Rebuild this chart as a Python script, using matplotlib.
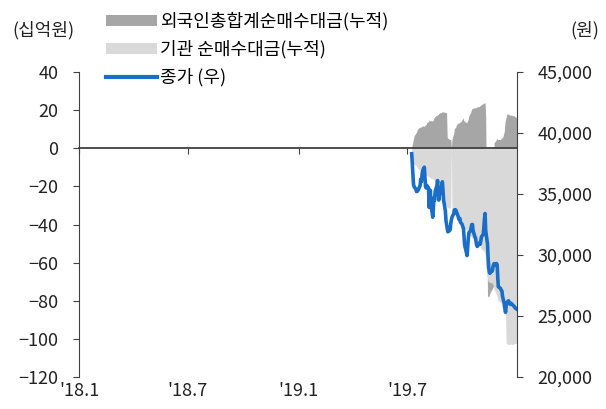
import numpy as np
import pandas as pd
import matplotlib
matplotlib.use('Agg')
import matplotlib.pyplot as plt
import matplotlib.transforms as mtransforms
from matplotlib.patches import Patch
from matplotlib.lines import Line2D
from matplotlib.ticker import FuncFormatter, MultipleLocator

plt.rcParams['font.family'] = ['Noto Sans CJK KR', 'DejaVu Sans']
plt.rcParams['font.size'] = 13

# trading days, Jul ~ Dec 2019
dates = pd.bdate_range('2019-07-08', periods=126)

# 종가 (원)
price = [38300, 37500, 36600, 35800, 35600, 35400, 35200, 35300, 35250, 35350,
         35700, 36200, 36000, 36500, 36900, 37200, 36400, 35600, 35500, 35700,
         35500, 33900, 34600, 35300, 34200, 33100, 33800, 34700, 34500, 35200,
         35700, 36100, 35300, 34500, 34900, 35400, 35700, 36000, 35300, 34500,
         33600, 32800, 32500, 32200, 31900, 32000, 32100, 32600, 32900, 33100,
         33400, 33700, 33500, 33700, 33600, 33200, 33000, 32900, 33000, 32700,
         32500, 32300, 32200, 31500, 30800, 30200, 29950, 30600, 31300, 31800,
         32000, 32300, 32500, 32500, 32000, 31500, 31400, 31100, 30800, 30700,
         30900, 31000, 30900, 31200, 31500, 31700, 32300, 33000, 33400, 32000,
         30900, 29800, 29000, 28600, 28500, 28700, 28700, 29000, 29200, 29300,
         29200, 29300, 29200, 28200, 27400, 27300, 27200, 27100, 27050, 26600,
         26000, 25600, 25300, 25800, 26100, 26250, 26100, 26000, 25950, 26050,
         25900, 25850, 25800, 25750, 25650, 25550]

# 외국인 누적 순매수 (십억원)
foreign = [0.5, 2, 3.5, 5, 6.5, 8, 8.5, 9.5, 10, 10.5,
           11, 11, 11.5, 11.3, 11.8, 11.5, 12, 12.2, 12.5, 13.5,
           14, 14.8, 14.6, 14.2, 14.5, 14.3, 15, 16, 16.3, 16.8,
           17.2, 17.8, 17.6, 18.2, 18.5, 18.7, 18.9, 19.2, 19, 19,
           18.8, 18.7, 18.5, 5.6, 5.2, 4.7, 4.5, 4.7, 0, 4.7,
           8, 10.8, 10.5, 10.8, 12, 13.4, 13, 13.5, 13.8, 13.6,
           15, 16, 15.2, 14.3, 14, 13.4, 13.8, 14.5, 15.2, 17,
           18.7, 20, 20.8, 20.6, 21, 21.3, 21, 21.4, 21.6, 21.8,
           21.8, 22.2, 22.4, 22.6, 23, 23.4, 23.6, 23.8, 23.9, 16,
           -77, -78, -78, -77, -76, -74, -74, -73, -72, 2.9,
           4, 5, 5, 4.5, 4.7, 4.5, 4.7, 5.2, 5.6, 5.4,
           9, 13.4, 15, 16.5, 17.8, 18, 17.6, 17.3, 17.3, 17.5,
           17, 17.2, 17, 16.8, 16.5, 16]

# 기관 누적 순매수 (십억원)
inst = [-4, -5, -6, -7.5, -8.5, -9, -9.5, -10, -10.5, -11,
        -11, -11.5, -12, -12.3, -12.6, -13, -13.5, -13.8, -14, -14.4,
        -14.7, -15, -15.2, -15.5, -15.8, -16, -16.3, -16.6, -17, -17.3,
        -17.6, -18, -19, -20.5, -22, -23.5, -25, -26, -27, -28,
        -29, -30, -30.5, -31, -31, -31.5, -31, -31, 0, -31.5,
        -33, -34, -35, -35.5, -36, -36.5, -37, -37, -37.5, -38,
        -38.5, -39, -40, -41, -42, -43, -44, -44.5, -45, -45.5,
        -46, -46.5, -47, -47, -47.5, -48, -48.5, -49, -49, -49.5,
        -50, -50.5, -51, -52, -53, -53.5, -54, -55, -55.5, -62,
        -68, -70, -70, -70, -70.5, -70.5, -71, -71.5, -72, -74,
        -76, -77, -78, -79, -80, -80.5, -81, -82, -83, -84,
        -85, -86.5, -88, -102, -102.5, -103, -103, -102.8, -102.6, -102.8,
        -103, -102.8, -102.6, -102.5, -102.5, -102]

xtick_dates = pd.to_datetime(['2018-01-01', '2018-07-01', '2019-01-01', '2019-07-01'])
xtick_labels = ["'18.1", "'18.7", "'19.1", "'19.7"]

fig = plt.figure(figsize=(6.06, 4.09), dpi=100)
ax = fig.add_axes([0.1304, 0.0782, 0.7227, 0.7458])
ax2 = ax.twinx()

ax.fill_between(dates, 0, foreign, color='#a6a6a6', lw=0)
ax.fill_between(dates, 0, inst, color='#d9d9d9', lw=0)
ax2.plot(dates, price, color='#1a6ec7', lw=2.6)

ax.set_xlim(pd.Timestamp('2018-01-01'), pd.Timestamp('2019-12-30'))
ax.set_ylim(-120, 40)
ax.yaxis.set_major_locator(MultipleLocator(20))
ax2.set_ylim(20000, 45000)
ax2.yaxis.set_major_locator(MultipleLocator(5000))
ax2.yaxis.set_major_formatter(FuncFormatter(lambda v, p: f'{int(v):,}'))

axis_col = '#404040'
txt_col = '#222222'
for a in (ax, ax2):
    a.spines['top'].set_visible(False)
ax.spines['right'].set_visible(False)
ax2.spines['left'].set_visible(False)
ax2.spines['bottom'].set_visible(False)
ax.spines['bottom'].set_position(('data', 0))
ax.spines['bottom'].set_color(axis_col)
ax.spines['bottom'].set_linewidth(1.3)
ax.spines['left'].set_color(axis_col)
ax2.spines['right'].set_color(axis_col)

ax.set_xticks(xtick_dates)
ax.set_xticklabels([''] * len(xtick_dates))
ax.tick_params(axis='x', direction='out', length=4, color=axis_col)
ax.tick_params(axis='y', direction='out', length=4, pad=11, color=axis_col,
               labelcolor=txt_col, labelsize=13)
ax2.tick_params(axis='y', direction='out', length=4, pad=11, color=axis_col,
                labelcolor=txt_col, labelsize=13)

# date labels sit under the plot, not on the zero line
trans = mtransforms.blended_transform_factory(ax.transData, ax.transAxes)
for d, lab in zip(xtick_dates, xtick_labels):
    ax.text(d, -0.046, lab, transform=trans, ha='center', va='center',
            fontsize=13, color=txt_col)

fig.text(43 / 606, 1 - 30 / 409, '(십억원)', ha='center', va='center', fontsize=13, color=txt_col)
fig.text(585 / 606, 1 - 30 / 409, '(원)', ha='center', va='center', fontsize=13, color=txt_col)

handles = [Patch(facecolor='#a6a6a6'), Patch(facecolor='#d9d9d9'),
           Line2D([], [], color='#1a6ec7', lw=3)]
labels = ['외국인총합계순매수대금(누적)', '기관 순매수대금(누적)', '종가 (우)']
fig.legend(handles, labels, loc='upper left', bbox_to_anchor=(97 / 606, 1 - 3 / 409),
           frameon=False, borderpad=0, handlelength=2.85, handleheight=0.55,
           handletextpad=0.12, labelspacing=0.53, fontsize=13)

fig.savefig('out.png', dpi=100)
